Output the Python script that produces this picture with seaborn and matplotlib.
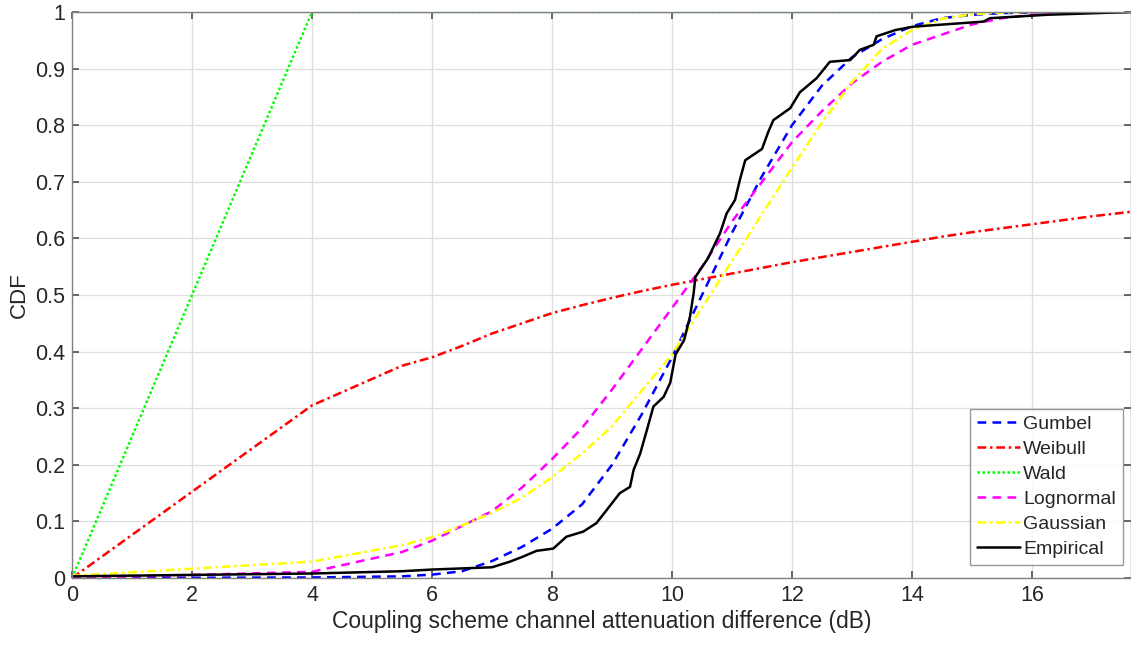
import matplotlib
matplotlib.use("Agg")
import matplotlib.pyplot as plt
import seaborn as sns
import numpy as np

# ---- data ----
x_fit = [0, 4, 5.5, 6, 6.5, 7, 7.5, 8, 8.5, 9, 9.5, 10, 10.5, 11, 11.5, 12,
         12.5, 13, 13.5, 14, 14.5, 15, 15.5, 16, 16.5, 17, 17.65]
gumbel = [0.0, 0.001, 0.003, 0.006, 0.012, 0.03, 0.055, 0.087, 0.13, 0.2, 0.29,
          0.39, 0.5, 0.61, 0.71, 0.8, 0.87, 0.92, 0.952, 0.975, 0.989, 0.995,
          0.998, 0.999, 1.0, 1.0, 1.0]
weibull = [0.0, 0.305, 0.375, 0.39, 0.41, 0.432, 0.45, 0.468, 0.482, 0.495,
           0.507, 0.518, 0.528, 0.538, 0.548, 0.558, 0.567, 0.576, 0.585, 0.594,
           0.603, 0.611, 0.618, 0.625, 0.632, 0.639, 0.647]
wald = [0.0, 1.0, 1.0, 1.0, 1.0, 1.0, 1.0, 1.0, 1.0, 1.0, 1.0, 1.0, 1.0, 1.0,
        1.0, 1.0, 1.0, 1.0, 1.0, 1.0, 1.0, 1.0, 1.0, 1.0, 1.0, 1.0, 1.0]
lognormal = [0.0, 0.011, 0.046, 0.066, 0.092, 0.118, 0.16, 0.21, 0.265, 0.333,
             0.405, 0.477, 0.55, 0.63, 0.70, 0.77, 0.825, 0.874, 0.912, 0.942,
             0.96, 0.978, 0.989, 0.995, 0.998, 0.999, 1.0]
gaussian = [0.004, 0.029, 0.058, 0.072, 0.093, 0.115, 0.142, 0.178, 0.22, 0.268,
            0.332, 0.395, 0.478, 0.56, 0.643, 0.725, 0.805, 0.876, 0.935, 0.968,
            0.988, 0.996, 0.999, 1.0, 1.0, 1.0, 1.0]

x_emp = [0, 4, 5.5, 6, 7, 7.3, 7.52, 7.74, 8.02, 8.24, 8.52, 8.74, 8.91, 9.13,
         9.3, 9.36, 9.47, 9.58, 9.69, 9.86, 9.97, 10.06, 10.2, 10.3, 10.36,
         10.39, 10.6, 10.8, 10.91, 11.05, 11.13, 11.22, 11.5, 11.6, 11.69,
         11.97, 12.13, 12.41, 12.63, 12.97, 13.13, 13.36, 13.41, 13.72, 14.02,
         15.19, 15.3, 16.24, 17.65]
empirical = [0.003, 0.008, 0.012, 0.015, 0.019, 0.029, 0.038, 0.048, 0.052,
             0.073, 0.082, 0.097, 0.12, 0.15, 0.161, 0.191, 0.22, 0.261, 0.303,
             0.32, 0.345, 0.395, 0.42, 0.462, 0.503, 0.532, 0.565, 0.609, 0.644,
             0.668, 0.703, 0.738, 0.758, 0.787, 0.809, 0.83, 0.858, 0.883,
             0.912, 0.915, 0.933, 0.942, 0.957, 0.968, 0.974, 0.983, 0.989,
             0.995, 1.0]

x_ticks = [0, 2, 4, 6, 8, 10, 12, 14, 16]
y_ticks = [0, 0.1, 0.2, 0.3, 0.4, 0.5, 0.6, 0.7, 0.8, 0.9, 1]
y_tick_labels = ["0", "0.1", "0.2", "0.3", "0.4", "0.5", "0.6", "0.7", "0.8", "0.9", "1"]

# ---- styling ----
sns.set_theme(style="whitegrid")
plt.rcParams["font.family"] = ["Liberation Sans", "DejaVu Sans"]
txt = "#262626"

fig = plt.figure(figsize=(11.31, 6.47), dpi=100)
ax = fig.add_axes([0.0637, 0.1066, 0.9363, 0.8749])
ax.set_facecolor("white")

lw = 1.8
sns.lineplot(x=x_fit, y=gumbel, ax=ax, color=(0, 0, 1), linestyle=(0, (3.5, 2.5)),
             linewidth=lw, label="Gumbel", sort=False)
sns.lineplot(x=x_fit, y=weibull, ax=ax, color=(1, 0, 0), linestyle=(0, (3.5, 1.5, 1, 1.5)),
             linewidth=lw, label="Weibull", sort=False)
sns.lineplot(x=x_fit, y=wald, ax=ax, color=(0, 1, 0), linestyle=(0, (1, 1)),
             linewidth=lw, label="Wald", sort=False)
sns.lineplot(x=x_fit, y=lognormal, ax=ax, color=(1, 0, 1), linestyle=(0, (3.5, 2.5)),
             linewidth=lw, label="Lognormal", sort=False)
sns.lineplot(x=x_fit, y=gaussian, ax=ax, color=(1, 1, 0), linestyle=(0, (3.5, 1.5, 1, 1.5)),
             linewidth=lw, label="Gaussian", sort=False)
sns.lineplot(x=x_emp, y=empirical, ax=ax, color="black", linestyle="-",
             linewidth=lw, label="Empirical", sort=False)

ax.set_xlim(0, 17.65)
ax.set_ylim(0, 1)
ax.set_xticks(x_ticks)
ax.set_xticklabels([str(t) for t in x_ticks])
ax.set_yticks(y_ticks)
ax.set_yticklabels(y_tick_labels)

ax.grid(True, color="#dedede", linewidth=0.9)
for s in ax.spines.values():
    s.set_visible(True)
    s.set_color("#808080")
    s.set_linewidth(1.0)

ax.tick_params(axis="both", which="both", direction="in", length=5,
               color="#555555", labelsize=15.5, labelcolor=txt,
               top=True, right=True, bottom=True, left=True, pad=5)

ax.set_xlabel("Coupling scheme channel attenuation difference (dB)",
              fontsize=16.5, color=txt, labelpad=3)
ax.set_ylabel("CDF", fontsize=16, color=txt, labelpad=4)

leg = ax.legend(loc="lower right", bbox_to_anchor=(0.992, 0.023), fontsize=14,
                frameon=True, fancybox=False, edgecolor="#808080",
                handlelength=2.2, handletextpad=0.15, borderpad=0.35,
                labelspacing=0.38, borderaxespad=0)
leg.get_frame().set_linewidth(1.0)
for t in leg.get_texts():
    t.set_color(txt)

fig.savefig("out.png", dpi=100)
